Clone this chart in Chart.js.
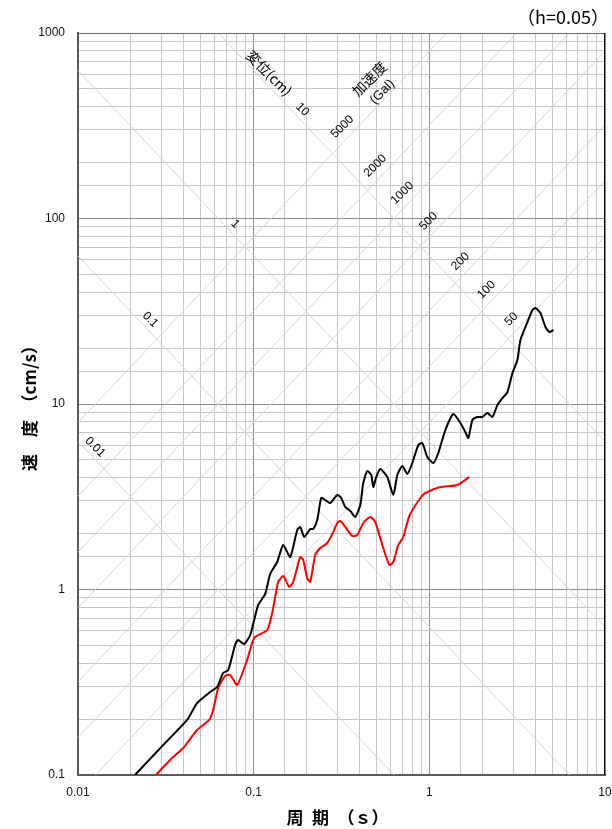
<!DOCTYPE html>
<html>
<head>
<meta charset="utf-8">
<script src="https://cdn.jsdelivr.net/npm/chart.js@4.4.1/dist/chart.umd.min.js"></script>
<style>
  html, body { margin: 0; padding: 0; background: #ffffff; }
  #wrap { width: 612px; height: 829px; position: relative; }
</style>
</head>
<body>
<div id="wrap"><canvas id="c" width="612" height="829"></canvas></div>
<script>
// ---- data ----
const blackPeriod = [0.0211,0.0305,0.0418,0.0476,0.0565,0.0619,0.0670,0.0716,0.0784,0.0816,0.0883,0.0955,0.1007,0.1061,0.1163,0.1242,0.1361,0.1473,0.1614,0.1770,0.1841,0.1940,0.2099,0.2183,0.2301,0.2425,0.2556,0.2729,0.2991,0.3152,0.3322,0.3548,0.3787,0.4045,0.4207,0.4433,0.4672,0.4796,0.4989,0.5258,0.5765,0.6237,0.6574,0.7018,0.7495,0.8000,0.8657,0.9122,0.9741,1.054,1.125,1.234,1.370,1.502,1.603,1.668,1.758,1.877,2.004,2.141,2.286,2.441,2.606,2.783,2.972,3.172,3.300,3.618,3.864,4.018,4.291,4.581,4.829,5.09];
const blackVelocity = [0.100,0.145,0.198,0.244,0.280,0.298,0.355,0.368,0.502,0.535,0.508,0.568,0.685,0.825,0.946,1.212,1.407,1.738,1.497,2.094,2.173,1.919,2.119,2.119,2.370,3.114,3.037,2.927,3.232,3.114,2.784,2.650,2.459,2.855,3.751,4.352,4.142,3.569,4.041,4.462,4.041,3.232,4.142,4.632,4.193,4.808,6.012,6.164,5.179,4.808,5.442,7.238,8.834,7.899,7.066,6.557,8.197,8.509,8.509,8.943,8.509,9.876,10.77,11.60,14.69,17.27,22.13,27.67,32.11,32.92,30.95,26.01,24.44,25.06];

const redPeriod = [0.0278,0.0334,0.0397,0.0476,0.0558,0.0588,0.0628,0.0688,0.0735,0.0805,0.0918,0.1007,0.1194,0.1275,0.1379,0.1473,0.1593,0.1679,0.1841,0.1915,0.2017,0.2099,0.2241,0.2393,0.2623,0.2838,0.2991,0.3111,0.3322,0.3641,0.3888,0.4207,0.4611,0.4923,0.5398,0.5918,0.6237,0.6659,0.7111,0.7691,0.8887,0.9489,1.155,1.444,1.690];
const redVelocity = [0.100,0.1205,0.1398,0.1748,0.198,0.224,0.294,0.342,0.346,0.306,0.417,0.548,0.605,0.747,1.098,1.182,1.032,1.098,1.497,1.442,1.153,1.098,1.535,1.674,1.781,2.042,2.283,2.341,2.173,1.943,1.967,2.283,2.459,2.312,1.738,1.356,1.407,1.738,1.919,2.490,3.114,3.313,3.569,3.659,4.041];

// tripartite guide lines
const dispValues = [0.01, 0.1, 1, 10];          // displacement (cm)
const dispLabels = ['0.01', '0.1', '1', '10'];
const accValues  = [50, 100, 200, 500, 1000, 2000, 5000];   // acceleration (Gal)
const accLabels  = ['50', '100', '200', '500', '1000', '2000', '5000'];

// axis tick labels
const xTickLabels = ['0.01', '0.1', '1', '10'];
const yTickLabels = ['0.1', '1', '10', '100', '1000'];

const xTitle = '周\u2002期\u2002（ｓ）';
const yTitle = '速\u3000度\u3000（cm/s）';
const dampingNote = '（h=0.05）';
const dispTitle = '変位(cm)';
const accTitle1 = '加速度';
const accTitle2 = '(Gal)';

// ---- build ----
const TWO_PI = 2 * Math.PI;
const xMin = 0.01, xMax = 10;
function zip(xs, ys) { return xs.map((x, i) => ({ x: x, y: ys[i] })); }

const guideSets = [];
dispValues.forEach(d => {
  guideSets.push({
    data: [{ x: xMin, y: TWO_PI * d / xMin }, { x: xMax, y: TWO_PI * d / xMax }],
    borderColor: '#d6d6d6', borderWidth: 1, pointRadius: 0, showLine: true, order: 10
  });
});
accValues.forEach(a => {
  guideSets.push({
    data: [{ x: xMin, y: a * xMin / TWO_PI }, { x: xMax, y: a * xMax / TWO_PI }],
    borderColor: '#d6d6d6', borderWidth: 1, pointRadius: 0, showLine: true, order: 10
  });
});

function isDecade(v) {
  const l = Math.log10(v);
  return Math.abs(l - Math.round(l)) < 1e-6;
}
function decadeLabel(v, list) {
  if (!isDecade(v)) return '';
  const s = list.find(t => Math.abs(parseFloat(t) - v) < 1e-9 * Math.max(1, v));
  return s !== undefined ? s : '';
}

const annotPlugin = {
  id: 'annot',
  afterDraw(chart) {
    const ctx = chart.ctx;
    const xs = chart.scales.x, ys = chart.scales.y;
    const ca = chart.chartArea;
    const numFont = '12px "Liberation Sans", Arial, sans-serif';

    function rotText(text, x, y, ang, font) {
      ctx.save();
      ctx.translate(x, y);
      ctx.rotate(ang);
      ctx.font = font;
      ctx.fillStyle = '#000';
      ctx.textAlign = 'center';
      ctx.textBaseline = 'middle';
      ctx.fillText(text, 0, 0);
      ctx.restore();
    }

    // displacement labels (placed along their lines)
    const dispAt = [0.01155, 0.0238, 0.0725, 0.175];
    dispValues.forEach((d, i) => {
      const t = dispAt[i];
      const px = xs.getPixelForValue(t), py = ys.getPixelForValue(TWO_PI * d / t);
      rotText(dispLabels[i], px + 6, py - 6, Math.PI / 4, numFont);
    });
    // acceleration labels
    const accAt = [3.26, 2.35, 1.67, 1.1, 0.78, 0.547, 0.355];
    accValues.forEach((a, i) => {
      const t = accAt[i];
      const px = xs.getPixelForValue(t), py = ys.getPixelForValue(a * t / TWO_PI);
      rotText(accLabels[i], px - 8, py - 8, -Math.PI / 4, numFont);
    });

    const jpFont = '14px "Noto Sans CJK JP", sans-serif';
    rotText(dispTitle, xs.getPixelForValue(0.1226), ys.getPixelForValue(608), Math.PI / 4, jpFont);
    rotText(accTitle1, xs.getPixelForValue(0.455), ys.getPixelForValue(565), -Math.PI / 4, jpFont);
    rotText(accTitle2, xs.getPixelForValue(0.54), ys.getPixelForValue(481), -Math.PI / 4, '13px "Liberation Sans", "Noto Sans CJK JP", sans-serif');

    // frame top / right
    ctx.save();
    ctx.lineWidth = 1;
    ctx.strokeStyle = '#6a6a6a';
    ctx.beginPath();
    ctx.moveTo(ca.left, Math.round(ca.top) + 0.5);
    ctx.lineTo(ca.right, Math.round(ca.top) + 0.5);
    ctx.stroke();
    ctx.strokeStyle = '#000';
    ctx.beginPath();
    ctx.moveTo(Math.round(ca.right) - 0.5, ca.top);
    ctx.lineTo(Math.round(ca.right) - 0.5, ca.bottom);
    ctx.stroke();
    ctx.restore();

    // axis titles
    ctx.save();
    ctx.fillStyle = '#000';
    ctx.font = 'bold 17px "Noto Sans CJK JP", sans-serif';
    ctx.textAlign = 'center';
    ctx.textBaseline = 'middle';
    ctx.fillText(xTitle, (ca.left + ca.right) / 2 - 4, 818);
    ctx.translate(30, (ca.top + ca.bottom) / 2);
    ctx.rotate(-Math.PI / 2);
    ctx.fillText(yTitle, 0, 0);
    ctx.restore();

    ctx.save();
    ctx.fillStyle = '#000';
    ctx.font = '18px "Noto Sans CJK JP", sans-serif';
    ctx.textAlign = 'right';
    ctx.textBaseline = 'middle';
    ctx.fillText(dampingNote, ca.right + 4, 17);
    ctx.restore();
  }
};

const gridColor = ctx => (ctx.tick && isDecade(ctx.tick.value)) ? '#8c8c8c' : '#c6c6c6';

new Chart(document.getElementById('c'), {
  type: 'scatter',
  data: {
    datasets: [
      { data: zip(blackPeriod, blackVelocity), borderColor: '#000000', borderWidth: 2, pointRadius: 0, showLine: true, tension: 0.2, order: 0 },
      { data: zip(redPeriod, redVelocity), borderColor: '#ff0000', borderWidth: 2, pointRadius: 0, showLine: true, tension: 0.2, order: 1 }
    ].concat(guideSets)
  },
  options: {
    responsive: false,
    animation: false,
    events: [],
    layout: { padding: { top: 33, right: 7, left: 0, bottom: 0 } },
    plugins: { legend: { display: false }, tooltip: { enabled: false }, title: { display: false } },
    scales: {
      x: {
        type: 'logarithmic', min: xMin, max: xMax,
        afterFit(s) { s.height = 54; s.paddingLeft = 0; s.paddingRight = 0; },
        grid: { color: gridColor, lineWidth: 1, drawTicks: false },
        border: { display: true, color: '#5a5a5a', width: 2 },
        ticks: {
          autoSkip: false, maxRotation: 0, padding: 10, color: '#111',
          font: { family: '"Liberation Sans", Arial, sans-serif', size: 12 },
          callback: v => decadeLabel(v, xTickLabels)
        }
      },
      y: {
        type: 'logarithmic', min: 0.1, max: 1000,
        afterFit(s) { s.width = 78; s.paddingTop = 0; s.paddingBottom = 0; },
        grid: { color: gridColor, lineWidth: 1, drawTicks: false },
        border: { display: true, color: '#5a5a5a', width: 2 },
        ticks: {
          autoSkip: false, padding: 13, color: '#111',
          font: { family: '"Liberation Sans", Arial, sans-serif', size: 12 },
          callback: v => decadeLabel(v, yTickLabels)
        }
      }
    }
  },
  plugins: [annotPlugin]
});
</script>
</body>
</html>
